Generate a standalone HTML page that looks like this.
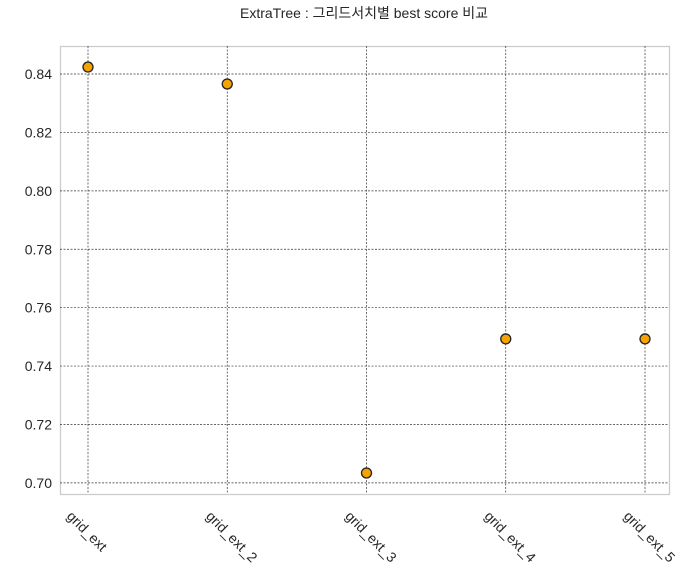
<!DOCTYPE html>
<html><head><meta charset="utf-8"><style>
body{margin:0;background:#fff;}
svg text{font-family:"Liberation Sans","Noto Sans CJK KR",sans-serif;fill:#262626;}
</style></head><body>
<svg id="chart" width="699" height="568">
<text x="364" y="18" font-size="14" text-anchor="middle">ExtraTree : 그리드서치별 best score 비교</text>
<rect x="60.5" y="46.5" width="609" height="448" fill="none" stroke="#cccccc" stroke-width="1.3"/>
<g id="grid"></g><g id="ticks"></g><g id="marks"></g>
</svg>
<script>
const categories=["grid_ext","grid_ext_2","grid_ext_3","grid_ext_4","grid_ext_5"];
const scores=[0.8424,0.8366,0.7034,0.7493,0.7493];
const yTicks=[0.70,0.72,0.74,0.76,0.78,0.80,0.82,0.84];
const ns="http://www.w3.org/2000/svg";
const yMin=0.6962,yMax=0.8496,plotTop=46,plotBottom=494,plotLeft=60,plotRight=669;
const yScale=v=>plotBottom-(v-yMin)/(yMax-yMin)*(plotBottom-plotTop);
const xScale=i=>88+i*139.25;
const g=document.getElementById('grid'),t=document.getElementById('ticks'),m=document.getElementById('marks');
function mk(tag,a,p){const e=document.createElementNS(ns,tag);for(const k in a)e.setAttribute(k,a[k]);p.appendChild(e);return e;}
yTicks.forEach(v=>{
 const l=mk('line',{x1:plotLeft,x2:plotRight,y1:yScale(v),y2:yScale(v),stroke:'#333',"stroke-width":0.7,"stroke-dasharray":"2,1.5"},g);
 
 
 const tx=mk('text',{x:52,y:yScale(v)+5,"font-size":14,"text-anchor":"end"},t);
 tx.textContent=v.toFixed(2);
 
 
});
categories.forEach((c,i)=>{
 const l=mk('line',{x1:xScale(i),x2:xScale(i),y1:plotTop,y2:plotBottom,stroke:'#333',"stroke-width":0.7,"stroke-dasharray":"2,1.5"},g);
 
 
 const tx=mk('text',{x:xScale(i)-22,y:517,"font-size":14,transform:`rotate(45 ${xScale(i)-22} 517)`},t);
 tx.textContent=c;
 
 
 const p=mk('circle',{cx:xScale(i),cy:yScale(scores[i]),r:5,fill:'#f5a300',stroke:'#222',"stroke-width":1.3},m);
 
 
});
</script>
</body></html>
